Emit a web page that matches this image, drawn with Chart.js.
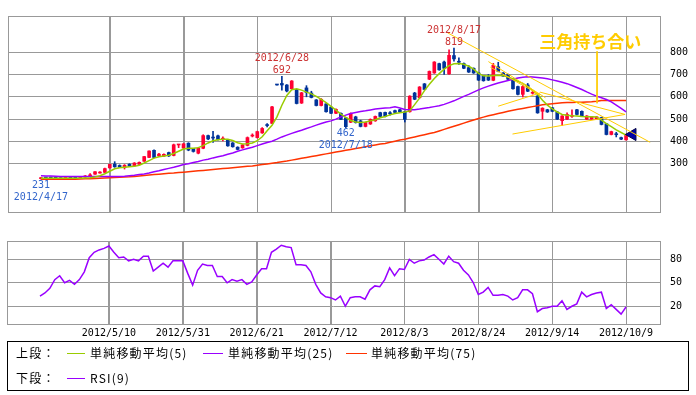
<!DOCTYPE html>
<html><head><meta charset="utf-8">
<script src="https://cdn.jsdelivr.net/npm/chart.js@4"></script>
<style>
html,body{margin:0;padding:0;background:#fff;}
body{width:696px;height:395px;position:relative;overflow:hidden;font-family:"Noto Sans CJK JP",sans-serif;}
#c1{position:absolute;left:0;top:0;}
#c2{position:absolute;left:0;top:225px;}
#legend{position:absolute;left:7px;top:341px;width:682px;height:50px;box-sizing:border-box;border:1px solid #000;}
.lg{position:absolute;font-size:12px;letter-spacing:1.2px;line-height:14px;color:#000;white-space:nowrap;}
.ln{position:absolute;height:1px;}
</style></head><body>
<canvas id="c1" width="696" height="228"></canvas>
<canvas id="c2" width="696" height="116"></canvas>
<div id="legend"></div>
<script>
// ---------- categories (trading days) ----------
const dates = [
'2012/4/17','2012/4/18','2012/4/19','2012/4/20','2012/4/23','2012/4/24','2012/4/25','2012/4/26','2012/4/27',
'2012/5/1','2012/5/2','2012/5/7','2012/5/8','2012/5/9','2012/5/10','2012/5/11','2012/5/14','2012/5/15','2012/5/16','2012/5/17','2012/5/18',
'2012/5/21','2012/5/22','2012/5/23','2012/5/24','2012/5/25','2012/5/28','2012/5/29','2012/5/30','2012/5/31',
'2012/6/1','2012/6/4','2012/6/5','2012/6/6','2012/6/7','2012/6/8','2012/6/11','2012/6/12','2012/6/13','2012/6/14','2012/6/15',
'2012/6/18','2012/6/19','2012/6/20','2012/6/21','2012/6/22','2012/6/25','2012/6/26','2012/6/27','2012/6/28','2012/6/29',
'2012/7/2','2012/7/3','2012/7/4','2012/7/5','2012/7/6','2012/7/9','2012/7/10','2012/7/11','2012/7/12','2012/7/13',
'2012/7/17','2012/7/18','2012/7/19','2012/7/20','2012/7/23','2012/7/24','2012/7/25','2012/7/26','2012/7/27','2012/7/30','2012/7/31',
'2012/8/1','2012/8/2','2012/8/3','2012/8/6','2012/8/7','2012/8/8','2012/8/9','2012/8/10','2012/8/13','2012/8/14','2012/8/15','2012/8/16','2012/8/17',
'2012/8/20','2012/8/21','2012/8/22','2012/8/23','2012/8/24','2012/8/27','2012/8/28','2012/8/29','2012/8/30','2012/8/31',
'2012/9/3','2012/9/4','2012/9/5','2012/9/6','2012/9/7','2012/9/10','2012/9/11','2012/9/12','2012/9/13','2012/9/14',
'2012/9/18','2012/9/19','2012/9/20','2012/9/21','2012/9/24','2012/9/25','2012/9/26','2012/9/27','2012/9/28',
'2012/10/1','2012/10/2','2012/10/3','2012/10/4','2012/10/5','2012/10/9'];

// ---------- price series ----------
const openP = [233,237,237,236,235,234,236,236,235,240,
244,253,258,261,281,298,292,283,297,290,
297,311,328,360,336,334,350,337,384,370,
392,368,347,369,426,418,425,410,406,393,
374,371,382,424,417,438,473,481,655,660,
653,636,632,572,640,617,586,561,568,554,
526,526,506,486,510,492,467,478,492,529,
530,526,538,542,533,533,617,596,658,679,
707,749,756,703,785,758,749,731,728,707,
694,690,674,735,707,700,674,646,611,653,
616,604,535,542,551,532,493,500,512,542,
535,500,500,502,507,479,431,432,417,407];
const closeP = [237,236,236,235,233,234,235,235,235,245,
250,264,262,278,297,286,285,293,290,303,
306,332,357,328,343,342,335,385,386,389,
361,355,370,426,411,415,408,413,380,376,
364,384,417,427,444,458,471,555,653,653,
626,671,570,618,619,597,561,589,533,526,
544,499,466,525,485,467,485,499,512,512,
512,524,530,532,499,603,589,644,633,714,
756,721,728,786,770,755,728,711,707,675,
672,675,742,714,693,679,636,611,646,625,
620,528,549,532,535,500,514,521,515,521,
514,514,510,510,476,431,444,430,410,431];
const highP = [238,238,239,237,236,236,237,237,236,247,
256,265,265,280,298,309,295,296,300,305,
308,333,358,362,346,344,352,388,387,391,
394,369,372,430,428,445,428,420,408,395,
376,386,420,434,446,462,480,557,656,692,
655,673,634,620,650,625,588,592,570,556,
546,528,508,528,513,495,487,501,514,531,
532,534,540,544,535,605,620,646,660,716,
758,751,760,811,819,775,752,740,730,709,
696,700,750,755,709,702,676,648,653,660,
625,606,551,544,553,534,516,528,542,544,
537,516,512,512,509,481,446,441,419,433];
const lowP = [231,234,235,234,232,233,234,234,234,239,
243,252,257,260,280,284,283,276,288,288,
295,310,327,326,333,332,332,335,372,368,
358,352,344,367,408,395,405,402,378,374,
362,369,380,420,415,436,465,479,652,630,
622,634,568,570,600,595,559,559,531,524,
524,497,462,484,482,465,465,476,490,510,
510,518,528,530,487,531,587,594,631,677,
705,719,700,701,760,745,726,709,705,673,
670,673,672,712,691,677,634,609,599,623,
612,526,500,530,533,498,472,498,508,519,
512,498,498,500,474,429,429,420,408,405];

// moving averages
const ma5 = [235,235,235,235,235,235,235,235,235,236,
237,240,246,255,266,277,282,284,286,288,
293,303,314,325,331,335,338,346,356,366,
369,369,372,381,393,403,407,410,410,404,
394,388,389,393,403,421,448,472,510,562,
606,632,636,630,621,613,602,588,574,557,
540,522,508,494,487,485,487,492,497,506,
512,519,525,529,532,537,565,594,628,656,
682,704,724,740,748,749,746,737,724,705,
694,693,696,697,696,689,680,670,660,646,
629,611,585,563,546,532,521,517,515,514,
512,511,511,510,495,480,466,452,440,428];
const ma25 = [246,245,245,244,243,243,242,242,242,242,
242,242,242,242,242,242,243,244,246,248,
251,254,258,264,268,274,279,284,290,296,
300,305,310,316,320,326,331,336,342,348,
356,362,368,374,381,388,395,401,410,420,
428,436,443,450,458,465,473,480,487,492,
500,510,518,525,530,534,537,541,545,548,
550,551,555,550,543,542,542,545,549,552,
556,560,566,574,582,592,602,611,621,631,
640,648,655,662,668,673,679,684,688,690,
689,687,684,681,676,671,665,659,651,642,
633,622,612,603,596,588,577,563,548,532];
const ma75 = [230,230,230,230,230,230,230,230,231,232,
233,234,235,236,237,238,239,240,241,243,
245,247,249,251,253,255,257,258,260,262,
264,266,268,270,272,274,276,278,280,282,
284,286,288,290,293,296,299,302,305,309,
312,316,320,324,328,332,336,340,344,348,
352,356,360,364,368,372,376,380,384,388,
391,396,401,406,410,415,420,425,430,435,
440,447,454,461,468,475,482,489,496,503,
509,515,520,525,530,535,540,544,548,552,
556,560,564,567,569,571,573,574,575,576,
576,577,578,580,583,583,583,583,583,583];
const rsi9 = [33,37,43,54,59,50,53,48,54,64,
82,89,92,94,97,89,82,83,78,80,
78,84,84,65,70,75,70,78,78,78,
62,47,66,74,72,72,58,58,50,54,
52,54,48,51,60,68,68,89,93,98,
96,95,73,73,72,64,48,37,32,31,
28,33,20,31,32,32,29,41,46,45,
54,69,59,68,67,80,75,78,79,83,
86,80,74,84,77,75,66,60,50,35,
38,44,34,34,35,33,28,31,41,41,
36,13,17,18,20,20,27,16,20,23,
38,32,35,37,38,17,22,16,10,19];

// ---------- tick labels ----------
const xTickLabels = ['2012/5/10','2012/5/31','2012/6/21','2012/7/12','2012/8/3','2012/8/24','2012/9/14','2012/10/9'];
const priceTicks = [300,400,500,600,700,800];
const rsiTicks = [20,50,80];

// ---------- annotations (data units) ----------
const extremeIdx = [0,49,62,84];
const extremeKind = ['low','high','low','high'];
const trendStart = [[82.7,887],[91.0,758],[91.4,733],[93.0,558],[95.9,433],[101.5,621],[113.1,804]];
const trendEnd   = [[123.9,396],[102.6,596],[101.5,608],[101.5,617],[118.8,521],[118.8,521],[113.1,571]];
const patternLabel = '三角持ち合い';
const patternAt = [111.7, 846];

const seriesNames = ['単純移動平均(5)','単純移動平均(25)','単純移動平均(75)'];
const rsiName = 'RSI(9)';

// ---------- styles ----------
const C_UP='#ff0033', C_DN='#003399', C_MA5='#99cc00', C_MA25='#9900ff', C_MA75='#ff3300', C_RSI='#9900ff';
const C_GRID='#999999', C_TREND='#ffcc00';
const TICKFONT={family:'DejaVu Sans Mono', size:10};

const tickIdx = xTickLabels.map(l=>dates.indexOf(l));
const xMin=-6.7, xMax=125.9;
const idx = dates.map((d,i)=>i);
const upDn = idx.map(i=> closeP[i]>=openP[i] ? C_UP : C_DN);

function xScale(showLabels){
  return {type:'linear', min:xMin, max:xMax, offset:false,
    grid:{color:C_GRID, lineWidth:1, drawTicks:false, offset:false},
    border:{display:false},
    afterBuildTicks:s=>{s.ticks=tickIdx.map(v=>({value:v}));},
    ticks:{display:showLabels, autoSkip:false, maxRotation:0, minRotation:0, padding:3, color:'#000', font:TICKFONT,
      callback:v=>dates[v]},
    afterFit:s=>{s.height= showLabels?17:0;}
  };
}
function yScale(min,max,ticks){
  return {position:'right', min:min, max:max,
    grid:{color:C_GRID, lineWidth:1, drawTicks:false},
    border:{display:false},
    afterBuildTicks:s=>{s.ticks=ticks.map(v=>({value:v}));},
    ticks:{padding:10, color:'#000', font:TICKFONT},
    afterFit:s=>{s.width=36;}
  };
}
// frame + vertical grid at the x tick positions (from the x scale)
const framePlugin={id:'frame', beforeDatasetsDraw(chart){
  const {ctx, chartArea:a, scales:{x}}=chart; ctx.save(); ctx.strokeStyle=C_GRID; ctx.lineWidth=1;
  ctx.beginPath();
  x.ticks.forEach(t=>{const px=Math.round(x.getPixelForValue(t.value))+0.5; ctx.moveTo(px,a.top); ctx.lineTo(px,a.bottom);});
  ctx.stroke();
  ctx.strokeRect(Math.round(a.left)+0.5, Math.round(a.top)+0.5, Math.round(a.right-a.left), Math.round(a.bottom-a.top));
  ctx.restore();}};

const labelPlugin={id:'labels', afterDatasetsDraw(chart){
  const {ctx, scales:{x,y}}=chart; ctx.save();
  ctx.font='10px "DejaVu Sans Mono"'; ctx.textAlign='center'; ctx.textBaseline='middle';
  extremeIdx.forEach((i,k)=>{
    const hi=extremeKind[k]==='high'; const v=hi?highP[i]:lowP[i];
    const px=x.getPixelForValue(i), py=y.getPixelForValue(v);
    ctx.fillStyle=hi?'#cc3333':'#3366cc';
    if(hi){ctx.fillText(dates[i],px,py-18);ctx.fillText(String(v),px,py-6);}
    else {ctx.fillText(String(v),px,py+6);ctx.fillText(dates[i],px,py+18);}
  });
  ctx.font='bold 17px "Noto Sans CJK JP"'; ctx.fillStyle=C_TREND;
  ctx.fillText(patternLabel, x.getPixelForValue(patternAt[0]), y.getPixelForValue(patternAt[1]));
  ctx.restore();}};

const lineDs=(data,color,order,w)=>({type:'line', data:idx.map(i=>({x:i,y:data[i]})), borderColor:color, borderWidth:w||1.5,
  pointRadius:0, tension:0, fill:false, order:order});

const datasets=[];
trendStart.forEach((s,k)=>datasets.push({type:'line', data:[{x:s[0],y:s[1]},{x:trendEnd[k][0],y:trendEnd[k][1]}],
  borderColor:C_TREND, borderWidth:1, pointRadius:0, fill:false, order:0}));
const last=dates.length-1;
datasets.push({type:'line', data:[{x:last+1.3, y:closeP[last]}], showLine:false, pointStyle:'triangle', rotation:270,
  pointRadius:7, backgroundColor:'#0000aa', borderColor:'#000044', borderWidth:1, order:0});
datasets.push(lineDs(ma5,C_MA5,1), lineDs(ma25,C_MA25,1), lineDs(ma75,C_MA75,1));
datasets.push({type:'bar', data:idx.map(i=>({x:i,y:[openP[i],closeP[i]]})), backgroundColor:upDn, barThickness:3,
  grouped:false, minBarLength:1, order:2});
datasets.push({type:'bar', data:idx.map(i=>({x:i,y:[lowP[i],highP[i]]})), backgroundColor:upDn, barThickness:1,
  grouped:false, minBarLength:1, order:3});

new Chart(document.getElementById('c1'),{
  type:'line', data:{datasets:datasets},
  options:{responsive:false, animation:false, events:[],
    layout:{padding:{left:7,top:7,right:0,bottom:10}},
    plugins:{legend:{display:false}, tooltip:{enabled:false}},
    scales:{x:xScale(false), y:yScale(83.3,962.5,priceTicks)}},
  plugins:[framePlugin,labelPlugin]
});

new Chart(document.getElementById('c2'),{
  type:'line', data:{datasets:[lineDs(rsi9,C_RSI,0,1.5)]},
  options:{responsive:false, animation:false, events:[],
    layout:{padding:{left:7,top:7,right:0,bottom:0}},
    plugins:{legend:{display:false}, tooltip:{enabled:false}},
    scales:{x:xScale(true), y:yScale(-2.7,103.4,rsiTicks)}},
  plugins:[framePlugin]
});

// ---------- legend ----------
const lg=document.getElementById('legend');
function addText(t,x,yc){const s=document.createElement('span');s.className='lg';s.textContent=t;
  s.style.left=(x-8)+'px';s.style.top=(yc-341-1-7)+'px';lg.appendChild(s);}
function addLine(c,x,w,yc){const d=document.createElement('div');d.className='ln';d.style.background=c;
  d.style.left=(x-8)+'px';d.style.width=w+'px';d.style.top=(yc-341-1)+'px';lg.appendChild(d);}
addText('上段：',16,353);
addLine(C_MA5,67,18,353); addText(seriesNames[0],90,353);
addLine(C_MA25,203,20,353); addText(seriesNames[1],228,353);
addLine(C_MA75,346,21,353); addText(seriesNames[2],371,353);
addText('下段：',16,378);
addLine(C_RSI,67,18,378); addText(rsiName,90,378);
</script>
</body></html>
